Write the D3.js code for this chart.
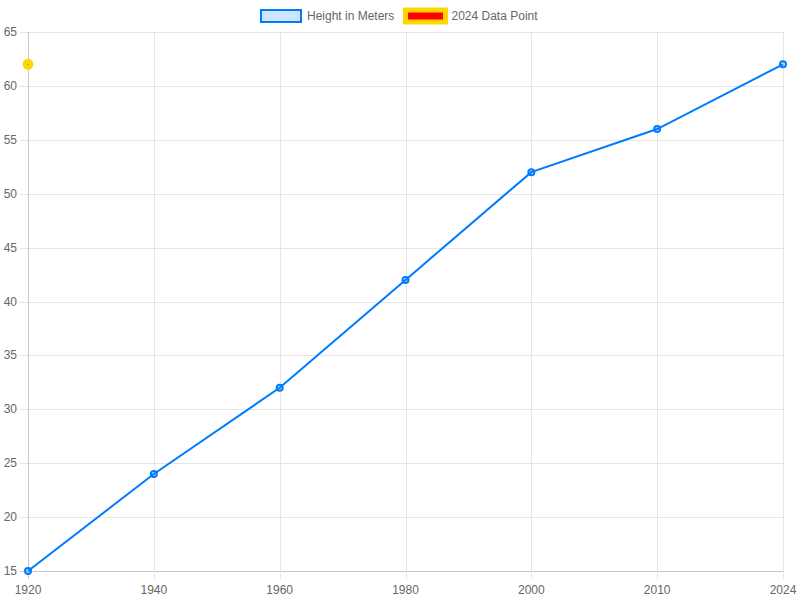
<!DOCTYPE html>
<html>
<head>
<meta charset="utf-8">
<script src="https://cdn.jsdelivr.net/npm/d3@7"></script>
<style>
  body { margin: 0; background: #fff; }
  text { font-family: "Liberation Sans", Arial, Helvetica, sans-serif; }
</style>
</head>
<body>
<div id="chart"></div>
<script>
// 数据
const years = ['1920', '1940', '1960', '1980', '2000', '2010', '2024'];
const heights = [15, 24, 32, 42, 52, 56, 62];
const extraPoint = [{ year: '1920', value: 62 }]; // 2024 Data Point
const yTicks = [15, 20, 25, 30, 35, 40, 45, 50, 55, 60, 65];
const legendItems = [
  { label: 'Height in Meters', fill: 'rgba(0,123,255,0.2)', stroke: '#007bff', sw: 2 },
  { label: '2024 Data Point', fill: '#ff0000', stroke: '#ffd700', sw: 5 }
];

const width = 800, height = 600;
const plot = { left: 28, right: 783, top: 32, bottom: 571 };

const svg = d3.select('#chart').append('svg')
  .attr('width', width)
  .attr('height', height);

const x = d3.scalePoint().domain(years).range([plot.left, plot.right]);
const y = d3.scaleLinear().domain([15, 65]).range([plot.bottom, plot.top]);

// 网格线
const grid = svg.append('g').attr('shape-rendering', 'crispEdges');
grid.selectAll('line.h').data(yTicks).enter().append('line')
  .attr('x1', plot.left - 8).attr('x2', plot.right)
  .attr('y1', d => Math.round(y(d)) + 0.5).attr('y2', d => Math.round(y(d)) + 0.5)
  .attr('stroke', d => d === 15 ? '#c8c8c8' : '#e6e6e6');
grid.selectAll('line.v').data(years).enter().append('line')
  .attr('y1', plot.top).attr('y2', plot.bottom + 8)
  .attr('x1', d => Math.round(x(d)) + 0.5).attr('x2', d => Math.round(x(d)) + 0.5)
  .attr('stroke', (d, i) => i === 0 ? '#c8c8c8' : '#e6e6e6');

// 刻度文字
svg.append('g').selectAll('text').data(yTicks).enter().append('text')
  .attr('x', plot.left - 11)
  .attr('y', d => y(d) + 4)
  .attr('text-anchor', 'end')
  .attr('fill', '#666')
  .style('font-size', '12px')
  .text(d => d);
svg.append('g').selectAll('text').data(years).enter().append('text')
  .attr('x', d => x(d))
  .attr('y', plot.bottom + 23)
  .attr('text-anchor', 'middle')
  .attr('fill', '#666')
  .style('font-size', '12px')
  .text(d => d);

// 折线
const line = d3.line().x((d, i) => x(years[i])).y(d => y(d));
svg.append('path')
  .datum(heights)
  .attr('d', line)
  .attr('fill', 'none')
  .attr('stroke', '#007bff')
  .attr('stroke-width', 2);

svg.append('g').selectAll('circle').data(heights).enter().append('circle')
  .attr('cx', (d, i) => x(years[i]))
  .attr('cy', d => y(d))
  .attr('r', 3)
  .attr('fill', 'rgba(0,123,255,0.2)')
  .attr('stroke', '#007bff')
  .attr('stroke-width', 2);

// 单独的数据点
svg.append('g').selectAll('circle').data(extraPoint).enter().append('circle')
  .attr('cx', d => x(d.year))
  .attr('cy', d => y(d.value))
  .attr('r', 3)
  .attr('fill', '#ff0000')
  .attr('stroke', '#ffd700')
  .attr('stroke-width', 5);

// 图例
const legendX = [261, 405.5];
const legend = svg.append('g');
legendItems.forEach((it, i) => {
  legend.append('rect')
    .attr('x', legendX[i]).attr('y', 10)
    .attr('width', 40).attr('height', 12)
    .attr('fill', it.fill)
    .attr('stroke', it.stroke)
    .attr('stroke-width', it.sw);
  legend.append('text')
    .attr('x', legendX[i] + 46 - (i === 0 ? 0 : 0))
    .attr('y', 20)
    .attr('fill', '#666')
    .style('font-size', '12px')
    .text(it.label);
});
</script>
</body>
</html>
